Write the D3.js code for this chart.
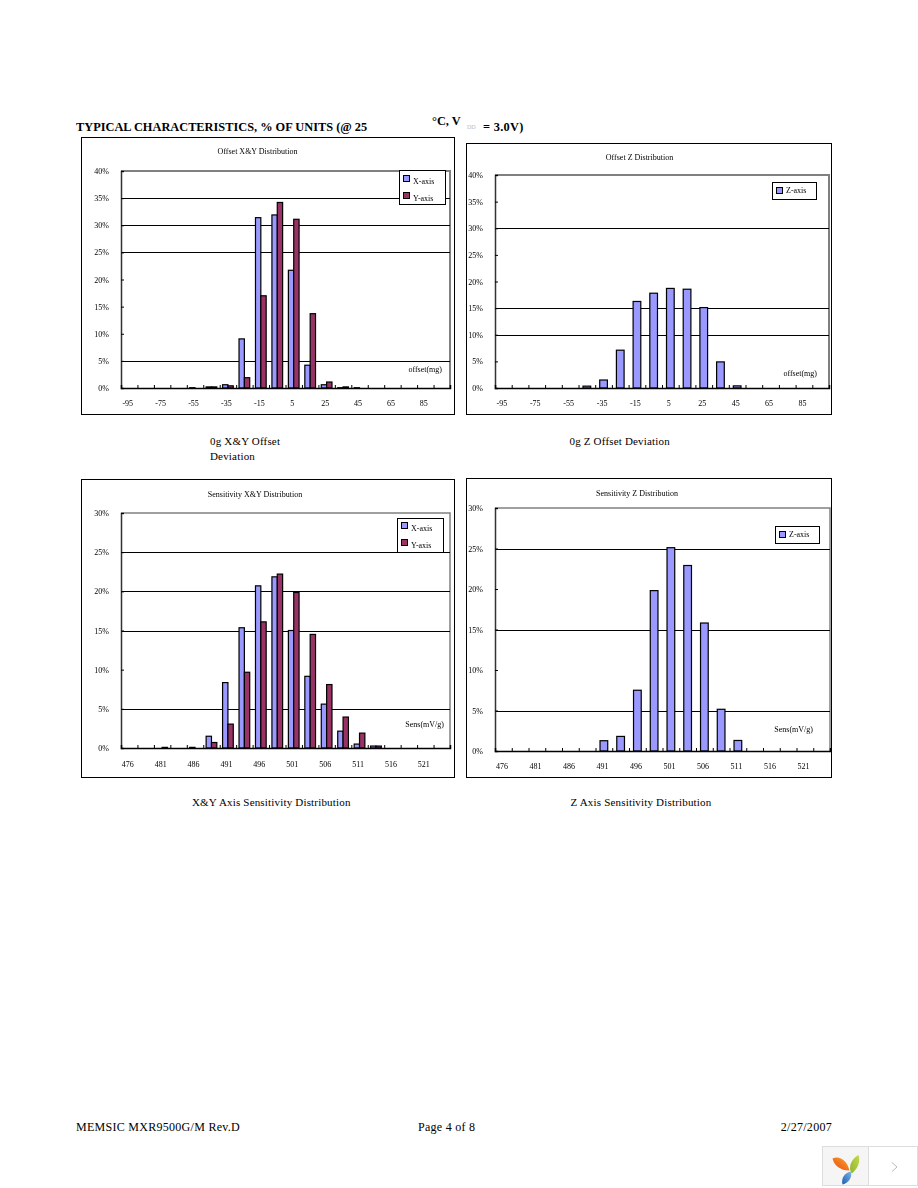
<!DOCTYPE html>
<html><head><meta charset="utf-8">
<script src="https://cdn.jsdelivr.net/npm/d3@7"></script>
<style>
html,body{margin:0;padding:0;background:#fff}
svg{display:block}
text{font-family:"Liberation Serif",serif;fill:#000}
.small{font-size:8px;filter:url(#soft)}
.cap{font-size:11px;letter-spacing:.18px}
.head{font-size:12.35px;font-weight:bold}
.foot{font-size:12px;letter-spacing:.28px}
</style></head><body>
<script>
// ---- data ----
const offsetCategories = ["-95","-85","-75","-65","-55","-45","-35","-25","-15","-5","5","15","25","35","45","55","65","75","85","95"];
const sensCategories = ["476","478.5","481","483.5","486","488.5","491","493.5","496","498.5","501","503.5","506","508.5","511","513.5","516","518.5","521","523.5"];
const offsetXY_X = [0,0,0,0,0.05,0.2,0.6,9.05,31.4,31.9,21.7,4.2,0.6,0.05,0.05,0,0,0,0,0];
const offsetXY_Y = [0,0,0,0,0,0.2,0.4,1.9,17,34.2,31.1,13.7,1.1,0.2,0,0,0,0,0,0];
const offsetZ_Z = [0,0,0,0,0,0.35,1.5,7.1,16.25,17.8,18.7,18.55,15.1,4.9,0.4,0,0,0,0,0];
const sensXY_X = [0,0,0,0,0.08,1.5,8.35,15.35,20.7,21.85,15,9.15,5.6,2.15,0.5,0.25,0,0,0,0];
const sensXY_Y = [0,0,0.08,0,0,0.7,3.05,9.67,16.1,22.2,19.85,14.5,8.1,3.95,1.9,0.25,0,0,0,0];
const sensZ_Z = [0,0,0,0,0,0,1.27,1.8,7.5,19.8,25.1,22.9,15.8,5.15,1.3,0,0,0,0,0];
const offsetTicks = [0,5,10,15,20,25,30,35,40];
const sensTicks = [0,5,10,15,20,25,30];
const grid1 = [5,25,30,35];
const grid2 = [10,15,30];
const grid3 = [5,15,20,25];
const grid4 = [5,15,25];
const seriesColors = {"X-axis":"#9999ff","Y-axis":"#993366","Z-axis":"#9999ff"};

// ---- layout ----
const svg = d3.select("body").append("svg").attr("width",918).attr("height",1188);
const defs = svg.append("defs");
defs.append("filter").attr("id","soft").attr("x","-10%").attr("y","-30%").attr("width","120%").attr("height","160%")
  .append("feGaussianBlur").attr("stdDeviation",0.28);

function txt(cls,x,y,s,anchor){
  return svg.append("text").attr("class",cls).attr("x",x).attr("y",y).attr("text-anchor",anchor||"start").text(s);
}

function chart(o){
  const g = svg.append("g");
  g.append("rect").attr("x",o.frame[0]+.5).attr("y",o.frame[1]+.5)
    .attr("width",o.frame[2]-o.frame[0]).attr("height",o.frame[3]-o.frame[1])
    .attr("fill","#fff").attr("stroke","#000");
  const [L,T,R,B] = o.plot;
  const y = d3.scaleLinear().domain([0,d3.max(o.ticks)]).range([B,T]);
  const x = d3.scaleBand().domain(o.cats).range([L,R]).paddingInner(o.pad).paddingOuter(o.pad/2);
  const xb = d3.scaleLinear().domain([0,o.cats.length]).range([L,R]);
  const inner = d3.scaleBand().domain(o.series.map(s=>s.name)).range([0,x.bandwidth()]);

  // gray plot border (top, right)
  g.append("path").attr("d",`M${L},${T}H${R}V${B}`).attr("fill","none").attr("stroke","#808080").attr("stroke-width",o.borderW);
  // gridlines
  g.append("g").selectAll("line").data(o.grid).join("line")
    .attr("x1",L).attr("x2",R).attr("y1",d=>Math.round(y(d))+.5).attr("y2",d=>Math.round(y(d))+.5)
    .attr("stroke","#000");

  // bars
  o.series.forEach(s=>{
    g.append("g").selectAll("rect").data(s.values.map((v,i)=>({v,c:o.cats[i]})).filter(d=>d.v>0)).join("rect")
      .attr("x",d=>x(d.c)+inner(s.name)).attr("y",d=>y(d.v))
      .attr("width",inner.bandwidth()).attr("height",d=>B-y(d.v))
      .attr("fill",seriesColors[s.name]).attr("stroke","#000").attr("stroke-width",1.2);
  });

  // y axis
  const ya = g.append("g").attr("transform",`translate(${L},0)`)
    .call(d3.axisLeft(y).tickValues(o.ticks).tickFormat(d=>d+"%").tickSize(-3).tickPadding(12));
  ya.select(".domain").attr("stroke","#333").attr("stroke-width",1.5);
  ya.selectAll("text").attr("class","small").attr("fill","#000");
  // x axis: boundary ticks
  const xa = g.append("g").attr("transform",`translate(0,${B})`)
    .call(d3.axisBottom(xb).tickValues(d3.range(o.cats.length+1)).tickFormat("").tickSize(-3));
  xa.select(".domain").attr("stroke","#000").attr("stroke-width",1.5);
  // x axis: labels on alternate categories
  const xl = g.append("g").attr("transform",`translate(-1.5,${B})`)
    .call(d3.axisBottom(x).tickValues(o.cats.filter((c,i)=>i%2===0)).tickSize(0).tickPadding(o.labPad));
  xl.select(".domain").remove();
  xl.selectAll("text").attr("class","small").attr("fill","#000");

  // titles
  g.append("text").attr("class","small").attr("x",o.title[1]).attr("y",o.title[2]).attr("text-anchor","middle").text(o.title[0]);
  g.append("text").attr("class","small").attr("x",o.unit[1]).attr("y",o.unit[2]).attr("text-anchor","end").text(o.unit[0]);

  // legend
  const [lx,ly,lw,lh] = o.legend;
  g.append("rect").attr("x",lx+.5).attr("y",ly+.5).attr("width",lw).attr("height",lh)
    .attr("fill","#fff").attr("stroke","#000");
  o.series.forEach((s,i)=>{
    const sy = ly + o.legendY[i];
    g.append("rect").attr("x",lx+4.5).attr("y",sy+.5).attr("width",6).attr("height",6)
      .attr("fill",seriesColors[s.name]).attr("stroke","#000");
    g.append("text").attr("class","small").attr("x",lx+14).attr("y",sy+9-(o.series.length>1?0:3)).text(s.name);
  });
}

chart({frame:[81,137,454,414],plot:[121,171,450,388],cats:offsetCategories,ticks:offsetTicks,grid:grid1,pad:.35,borderW:2,labPad:12,
  series:[{name:"X-axis",values:offsetXY_X},{name:"Y-axis",values:offsetXY_Y}],
  title:["Offset X&Y Distribution",257.5,154],unit:["offset(mg)",442,372],legend:[399,170,46,34],legendY:[5,22]});
chart({frame:[466,143,831,414],plot:[495,175,829,388],cats:offsetCategories,ticks:offsetTicks,grid:grid2,pad:.54,borderW:2,labPad:12,
  series:[{name:"Z-axis",values:offsetZ_Z}],
  title:["Offset Z Distribution",639.5,160],unit:["offset(mg)",817,376],legend:[772,182,44,17],legendY:[5]});
chart({frame:[81,479,454,777],plot:[121,513,450,748],cats:sensCategories,ticks:sensTicks,grid:grid3,pad:.35,borderW:1.5,labPad:13,
  series:[{name:"X-axis",values:sensXY_X},{name:"Y-axis",values:sensXY_Y}],
  title:["Sensitivity X&Y Distribution",255,497],unit:["Sens(mV/g)",444,727],legend:[397,518,46,34],legendY:[4,21]});
chart({frame:[466,478,831,777],plot:[495,508,830,751],cats:sensCategories,ticks:sensTicks,grid:grid4,pad:.54,borderW:1.5,labPad:12,
  series:[{name:"Z-axis",values:sensZ_Z}],
  title:["Sensitivity Z Distribution",637,496],unit:["Sens(mV/g)",813,732],legend:[775,526,44,17],legendY:[5]});

// page text
txt("head",76,131,"TYPICAL CHARACTERISTICS, % OF UNITS (@ 25");
txt("head",432,125,"°C, V");
svg.append("text").attr("x",467).attr("y",129).attr("font-size",6).style("fill","#bbb").text("DD");
txt("head",483,131,"= 3.0V)").style("letter-spacing",".3px");
txt("cap",210,445,"0g X&Y Offset");
txt("cap",210,460,"Deviation");
txt("cap",569.5,445,"0g Z Offset Deviation");
txt("cap",192,806,"X&Y Axis Sensitivity Distribution");
txt("cap",570.5,806,"Z Axis Sensitivity Distribution");
txt("foot",76,1131,"MEMSIC MXR9500G/M Rev.D");
txt("foot",418,1131,"Page 4 of 8");
txt("foot",832,1131,"2/27/2007","end");

// viewer badge
const badge = svg.append("g");
badge.append("rect").attr("x",822.5).attr("y",1146.5).attr("width",95).attr("height",39).attr("fill","#fff").attr("stroke","#ddd");
badge.append("rect").attr("x",823).attr("y",1147).attr("width",45).attr("height",38).attr("fill","#f5f5f5");
badge.append("line").attr("x1",868.5).attr("x2",868.5).attr("y1",1147).attr("y2",1185).attr("stroke","#ddd");
[["po","#f9a825","#e8481c","M832.5,1158.5C839,1155 847,1160 849.5,1170.5C842,1171 834,1166 832.5,1158.5Z"],
 ["pg","#c6d84a","#8fb52f","M858.5,1155C861,1162 857,1170 851.5,1173.5C848,1167 851,1159 858.5,1155Z"],
 ["pb","#7fb5e6","#1a5fb0","M850.5,1171.5C853,1176 849,1183 842.5,1184.5C841,1179 844,1173 850.5,1171.5Z"]
].forEach(([id,a,b,d])=>{
  const lg = defs.append("linearGradient").attr("id",id).attr("x1",1).attr("y1",0).attr("x2",0).attr("y2",1);
  lg.append("stop").attr("offset",0).attr("stop-color",a);
  lg.append("stop").attr("offset",1).attr("stop-color",b);
  badge.append("path").attr("d",d).attr("fill",`url(#${id})`);
});
badge.append("path").attr("d","M892,1162.5L897,1167L892,1171.5").attr("fill","none").attr("stroke","#bbb");
</script>
</body></html>
